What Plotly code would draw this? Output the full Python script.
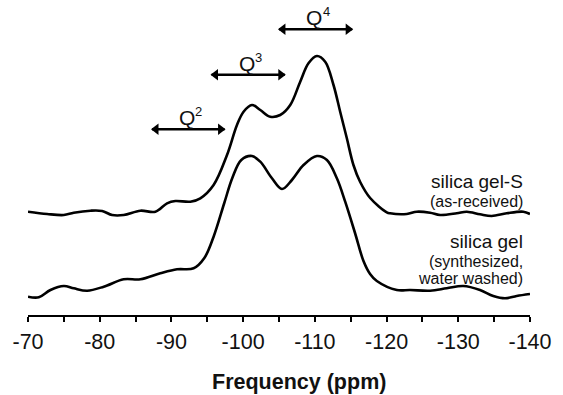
import plotly.graph_objects as go

# ---- data ----
ppm_s = [-70.0, -72.67, -74.99, -76.38, -78.71, -80.34, -81.73, -83.34, -85.67, -87.76,
         -89.39, -90.55, -92.64, -94.03, -95.88, -97.75, -99.14, -100.06, -101.23, -102.39,
         -103.78, -105.17, -106.57, -107.96, -109.11, -110.28, -111.44, -112.60, -113.53, -114.46,
         -115.38, -116.32, -117.71, -120.03, -120.49, -122.82, -124.21, -126.07, -127.46, -129.79,
         -131.18, -133.03, -134.66, -136.75, -139.06, -140.0]
int_s = [3.3, 1.0, 0.0, 2.3, 4.3, 4.0, 0.0, 0.0, 4.3, 3.3,
         11.7, 14.0, 13.3, 16.7, 30.0, 60.0, 90.0, 103.3, 110.0, 105.0,
         98.3, 100.0, 110.0, 133.3, 151.7, 159.0, 153.3, 130.0, 103.3, 76.7,
         50.0, 33.0, 17.0, 2.7, 1.7, 1.0, 3.3, 2.3, 0.0, 1.7,
         3.3, 0.7, -1.0, 1.7, 3.3, 1.0]

ppm_g = [-70.0, -71.50, -73.13, -74.99, -76.38, -78.25, -80.56, -83.34, -85.67, -88.45,
         -90.78, -93.09, -94.59, -95.88, -97.37, -98.49, -99.74, -101.23, -102.39, -104.02,
         -105.41, -106.80, -108.42, -110.28, -111.68, -113.07, -114.23, -115.60, -116.78, -117.70,
         -118.64, -121.43, -123.28, -126.07, -128.39, -130.70, -133.03, -134.88, -136.51, -138.14,
         -140.0]
int_g = [0.3, -0.3, 7.0, 11.0, 8.7, 6.3, 10.3, 17.7, 17.7, 23.7,
         27.7, 28.7, 39.0, 60.3, 94.0, 119.0, 137.0, 141.0, 135.3, 118.7,
         108.0, 117.0, 132.0, 141.0, 137.0, 118.7, 95.3, 64.0, 36.0, 23.0,
         16.0, 7.0, 7.0, 6.3, 8.7, 11.0, 7.0, 1.0, -1.3, 1.0,
         3.0]

offset_s = 100
offset_g = 18

q_sup = ["2", "3", "4"]
q_start = [-87.3, -95.6, -105.0]
q_end = [-97.4, -105.8, -115.2]
q_level = [185.7, 240.3, 285.7]
q_text_x = [-92.17, -100.53, -109.9]
q_text_y = [198.0, 251.3, 297.5]

sample_lines = ["silica gel-S", "(as-received)", "silica gel", "(synthesized,", "water washed)"]
sample_y = [134.0, 114.0, 74.0, 54.0, 36.7]
sample_size = [19, 16, 19, 16, 16]

x_ticks = [-70, -80, -90, -100, -110, -120, -130, -140]

FONT = "Liberation Sans, Arial, sans-serif"
INK = "#111111"
HEAD_INSET = 0.55  # ppm, so that triangle tips sit at the arrow ends

fig = go.Figure()
fig.add_trace(go.Scatter(x=ppm_s, y=[v + offset_s for v in int_s], mode="lines",
                         line=dict(color="black", width=2.6, shape="spline", smoothing=1.0),
                         showlegend=False, hoverinfo="skip"))
fig.add_trace(go.Scatter(x=ppm_g, y=[v + offset_g for v in int_g], mode="lines",
                         line=dict(color="black", width=2.6, shape="spline", smoothing=1.0),
                         showlegend=False, hoverinfo="skip"))

annotations = []
for sup, xs, xe, yl, tx, ty in zip(q_sup, q_start, q_end, q_level, q_text_x, q_text_y):
    fig.add_trace(go.Scatter(x=[xs, xe], y=[yl, yl], mode="lines",
                             line=dict(color="black", width=2.6),
                             showlegend=False, hoverinfo="skip"))
    fig.add_trace(go.Scatter(x=[xs - HEAD_INSET, xe + HEAD_INSET], y=[yl, yl], mode="markers",
                             marker=dict(symbol=["triangle-left", "triangle-right"], size=10,
                                         color="black", line=dict(width=0)),
                             showlegend=False, hoverinfo="skip"))
    annotations.append(dict(x=tx, y=ty, xref="x", yref="y", text="Q", showarrow=False,
                            xanchor="center", yanchor="middle",
                            font=dict(family=FONT, size=21, color=INK)))
    annotations.append(dict(x=tx, y=ty, xref="x", yref="y", text=sup, showarrow=False,
                            xanchor="center", yanchor="middle", xshift=12, yshift=6,
                            font=dict(family=FONT, size=13, color=INK)))

for t, yv, s in zip(sample_lines, sample_y, sample_size):
    annotations.append(dict(x=0.990, y=yv, xref="paper", yref="y", text=t, showarrow=False,
                            xanchor="right", yanchor="middle",
                            font=dict(family=FONT, size=s, color=INK)))

annotations.append(dict(x=0.540, y=-0.2117, xref="paper", yref="paper",
                        text="<b>Frequency (ppm)</b>", showarrow=False,
                        xanchor="center", yanchor="middle",
                        font=dict(family=FONT, size=21.5, color=INK)))

fig.update_layout(
    width=563, height=395,
    margin=dict(l=27.5, r=33, t=0, b=80),
    paper_bgcolor="white", plot_bgcolor="white",
    annotations=annotations,
    xaxis=dict(range=[-70, -140], tickvals=x_ticks, ticktext=[str(v) for v in x_ticks],
               showgrid=False, zeroline=False, showline=True, linecolor="black", linewidth=2,
               ticks="outside", ticklen=5, tickwidth=2, tickcolor="black",
               minor=dict(dtick=5, tick0=-70, ticks="outside", ticklen=5, tickwidth=2,
                          tickcolor="black", showgrid=False),
               tickfont=dict(family=FONT, size=21.5, color=INK), ticklabelstandoff=1,
               fixedrange=True),
    yaxis=dict(range=[0, 315], visible=False, fixedrange=True),
)

fig.write_html("out.html")
